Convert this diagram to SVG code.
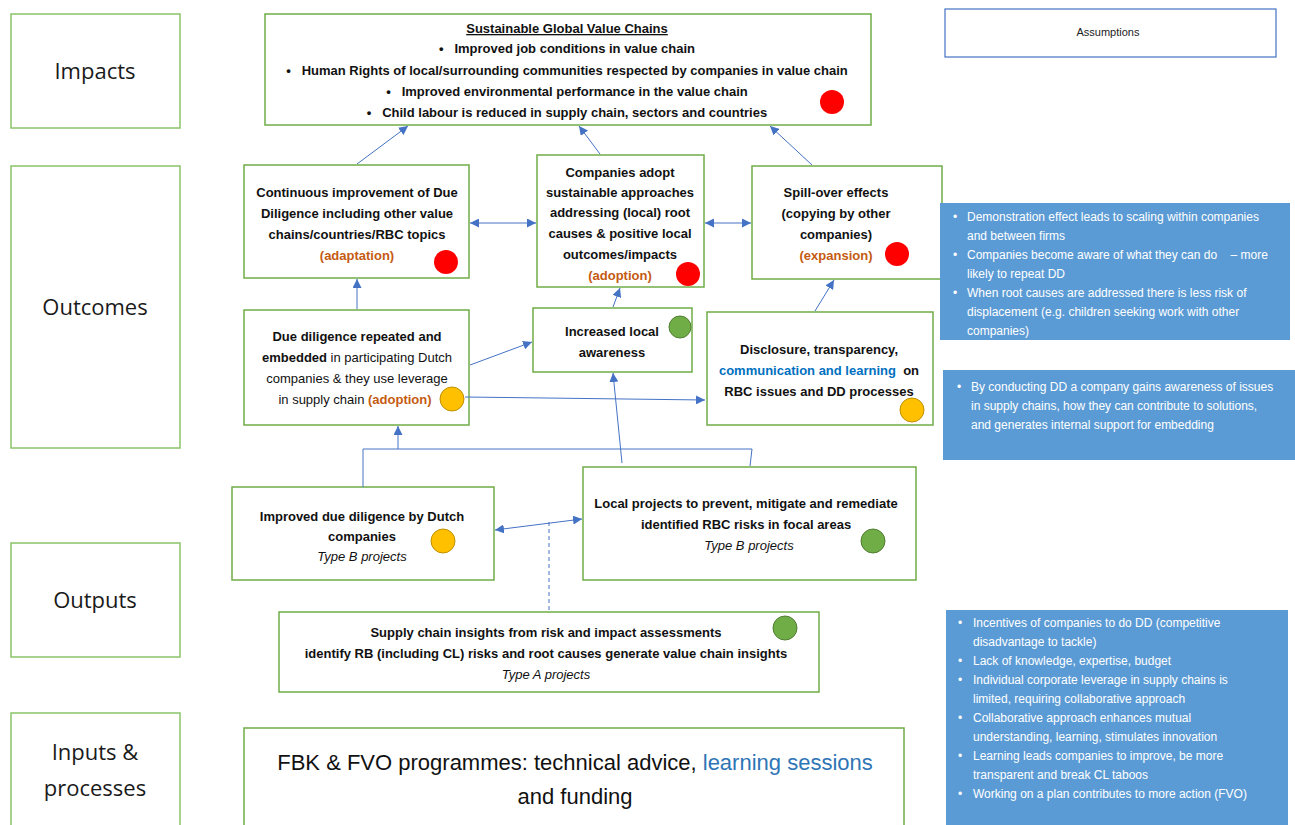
<svg xmlns="http://www.w3.org/2000/svg" width="1295" height="825" viewBox="0 0 1295 825">
<style>
.lbl{fill:#fff;stroke:#8BC36A;stroke-width:1.5}
.nd{fill:#fff;stroke:#70AD47;stroke-width:1.5}
.lt{font-family:"Open Sans",sans-serif;font-size:22px;fill:#1a1a1a;text-anchor:middle}
.t{font-family:"Liberation Sans",Arial,sans-serif;font-size:13px;font-weight:bold;fill:#111;text-anchor:middle}
.r{font-weight:normal}
.i{font-weight:normal;font-style:italic}
.or{fill:#C55A11}
.bl{fill:#0070C0}
.as{fill:#5B9BD5}
.at{font-family:"Liberation Sans",Arial,sans-serif;font-size:12px;fill:#fff}
.red{fill:#FF0000}
.grn{fill:#70AD47;stroke:#507E32;stroke-width:1}
.yel{fill:#FFC000;stroke:#BF9000;stroke-width:1}
.c{fill:none;stroke:#4472C4;stroke-width:1}
</style>
<defs>
<marker id="ah" viewBox="0 0 10 10" refX="10" refY="5" markerWidth="9" markerHeight="9" markerUnits="userSpaceOnUse" orient="auto-start-reverse">
<path d="M0,0 L10,5 L0,10 z" fill="#4472C4"/>
</marker>
</defs>

<g id="label-impacts"><rect class="lbl" x="11" y="14" width="169" height="114"/><text class="lt" x="95" y="79">Impacts</text></g>
<g id="label-outcomes"><rect class="lbl" x="11" y="166" width="169" height="282"/><text class="lt" x="95" y="315">Outcomes</text></g>
<g id="label-outputs"><rect class="lbl" x="11" y="543" width="169" height="114"/><text class="lt" x="95" y="608">Outputs</text></g>
<g id="label-inputs"><rect class="lbl" x="11" y="713" width="169" height="120"/><text class="lt" x="95" y="760">Inputs &amp;</text><text class="lt" x="95" y="796">processes</text></g>

<g id="impact">
<rect class="nd" x="265" y="14" width="606" height="111"/>
<text class="t" x="567" y="33" text-decoration="underline">Sustainable Global Value Chains </text>
<text class="t" x="567" y="53">•&#160;&#160; Improved job conditions in value chain</text>
<text class="t" x="567" y="75">•&#160;&#160; Human Rights of local/surrounding communities respected by companies in value chain</text>
<text class="t" x="567" y="96">•&#160;&#160; Improved environmental performance in the value chain</text>
<text class="t" x="567" y="117">•&#160;&#160; Child labour is reduced in supply chain, sectors and countries</text>
<circle class="red" cx="832" cy="102" r="12"/>
</g>

<g id="outcome-continuous">
<rect class="nd" x="244" y="165" width="225" height="113"/>
<text class="t" x="357" y="197">Continuous improvement of Due</text>
<text class="t" x="357" y="218">Diligence including other value</text>
<text class="t" x="357" y="239">chains/countries/RBC topics</text>
<text class="t or" x="357" y="260">(adaptation)</text>
<circle class="red" cx="446" cy="262" r="12"/>
</g>

<g id="outcome-adopt">
<rect class="nd" x="537" y="155" width="167" height="132"/>
<text class="t" x="620" y="177">Companies adopt</text>
<text class="t" x="620" y="197">sustainable approaches</text>
<text class="t" x="620" y="217">addressing (local) root</text>
<text class="t" x="620" y="238">causes &amp; positive local</text>
<text class="t" x="620" y="259">outcomes/impacts</text>
<text class="t or" x="620" y="280">(adoption)</text>
<circle class="red" cx="688" cy="274" r="12"/>
</g>

<g id="outcome-spillover">
<rect class="nd" x="752" y="166" width="190" height="113"/>
<text class="t" x="836" y="197">Spill-over effects</text>
<text class="t" x="836" y="218">(copying by other</text>
<text class="t" x="836" y="239">companies)</text>
<text class="t or" x="836" y="260">(expansion)</text>
<circle class="red" cx="897" cy="254" r="12"/>
</g>

<g id="outcome-dd-repeated">
<rect class="nd" x="244" y="310" width="225" height="115"/>
<text class="t" x="357" y="341">Due diligence repeated and</text>
<text class="t" x="357" y="362">embedded<tspan class="r"> in participating Dutch</tspan></text>
<text class="t r" x="357" y="383">companies &amp; they use leverage</text>
<text class="t" x="355" y="404"><tspan class="r">in supply chain </tspan><tspan class="or">(adoption)</tspan></text>
<circle class="yel" cx="452" cy="399" r="12"/>
</g>

<g id="outcome-awareness">
<rect class="nd" x="533" y="308" width="159" height="64"/>
<text class="t" x="612" y="336">Increased local</text>
<text class="t" x="612" y="357">awareness</text>
<circle class="grn" cx="680" cy="327" r="11"/>
</g>

<g id="outcome-disclosure">
<rect class="nd" x="707" y="312" width="226" height="113"/>
<text class="t" x="819" y="354">Disclosure, transparency,</text>
<text class="t" x="819" y="375"><tspan class="bl">communication and learning</tspan>&#160; on</text>
<text class="t" x="819" y="396">RBC issues and DD processes</text>
<circle class="yel" cx="912" cy="410" r="12"/>
</g>

<g id="output-improved-dd">
<rect class="nd" x="232" y="487" width="262" height="93"/>
<text class="t" x="362" y="521">Improved due diligence by Dutch</text>
<text class="t" x="362" y="541">companies</text>
<text class="t i" x="362" y="561">Type B projects</text>
<circle class="yel" cx="443" cy="541" r="12"/>
</g>

<g id="output-local-projects">
<rect class="nd" x="583" y="467" width="333" height="113"/>
<text class="t" x="746" y="508">Local projects to prevent, mitigate and remediate</text>
<text class="t" x="746" y="529">identified RBC risks in focal areas</text>
<text class="t i" x="749" y="550">Type B projects</text>
<circle class="grn" cx="873" cy="541" r="12"/>
</g>

<g id="output-supply-chain">
<rect class="nd" x="279" y="612" width="540" height="80"/>
<text class="t" x="546" y="637">Supply chain insights from risk and impact assessments</text>
<text class="t" x="546" y="658">identify RB (including CL) risks and root causes generate value chain insights</text>
<text class="t i" x="546" y="679">Type A projects</text>
<circle class="grn" cx="785" cy="628" r="12"/>
</g>

<g id="inputs">
<rect class="nd" x="244" y="728" width="660" height="110"/>
<text x="575" y="770" style="font-family:'Liberation Sans',Arial,sans-serif;font-size:22px;fill:#111;text-anchor:middle">FBK &amp; FVO programmes: technical advice, <tspan fill="#2E75B6">learning sessions</tspan></text>
<text x="575" y="804" style="font-family:'Liberation Sans',Arial,sans-serif;font-size:22px;fill:#111;text-anchor:middle">and funding</text>
</g>

<g id="assumptions">
<rect x="945" y="9" width="331" height="48" fill="#fff" stroke="#4472C4" stroke-width="1.2"/>
<text x="1108" y="36" style="font-family:'Liberation Sans',Arial,sans-serif;font-size:11px;fill:#222;text-anchor:middle">Assumptions</text>
</g>

<g id="assumptions-outcomes">
<rect class="as" x="940" y="203" width="350" height="137"/>
<text class="at" x="953" y="221">•</text><text class="at" x="967" y="221">Demonstration effect leads to scaling within companies</text>
<text class="at" x="967" y="240">and between firms</text>
<text class="at" x="953" y="259">•</text><text class="at" x="967" y="259">Companies become aware of what they can do&#160;&#160;&#160; – more</text>
<text class="at" x="967" y="278">likely to repeat DD</text>
<text class="at" x="953" y="297">•</text><text class="at" x="967" y="297">When root causes are addressed there is less risk of</text>
<text class="at" x="967" y="316">displacement (e.g. children seeking work with other</text>
<text class="at" x="967" y="335">companies)</text>
</g>

<g id="assumptions-dd">
<rect class="as" x="943" y="370" width="352" height="90"/>
<text class="at" x="957" y="391">•</text><text class="at" x="971" y="391">By conducting DD a company gains awareness of issues</text>
<text class="at" x="971" y="410">in supply chains, how they can contribute to solutions,</text>
<text class="at" x="971" y="429">and generates internal support for embedding</text>
</g>

<g id="assumptions-inputs">
<rect class="as" x="946" y="610" width="342" height="220"/>
<text class="at" x="958" y="627">•</text><text class="at" x="973" y="627">Incentives of companies to do DD (competitive</text>
<text class="at" x="973" y="646">disadvantage to tackle)</text>
<text class="at" x="958" y="665">•</text><text class="at" x="973" y="665">Lack of knowledge, expertise, budget</text>
<text class="at" x="958" y="684">•</text><text class="at" x="973" y="684">Individual corporate leverage in supply chains is</text>
<text class="at" x="973" y="703">limited, requiring collaborative approach</text>
<text class="at" x="958" y="722">•</text><text class="at" x="973" y="722">Collaborative approach enhances mutual</text>
<text class="at" x="973" y="741">understanding, learning, stimulates innovation</text>
<text class="at" x="958" y="760">•</text><text class="at" x="973" y="760">Learning leads companies to improve, be more</text>
<text class="at" x="973" y="779">transparent and break CL taboos</text>
<text class="at" x="958" y="798">•</text><text class="at" x="973" y="798">Working on a plan contributes to more action (FVO)</text>
</g>

<g id="connectors">
<line class="c" x1="357" y1="164" x2="408" y2="126" marker-end="url(#ah)"/>
<line class="c" x1="600" y1="154" x2="579" y2="126" marker-end="url(#ah)"/>
<line class="c" x1="812" y1="165" x2="770" y2="126" marker-end="url(#ah)"/>
<line class="c" x1="470" y1="223" x2="536" y2="223" marker-start="url(#ah)" marker-end="url(#ah)"/>
<line class="c" x1="705" y1="223" x2="751" y2="223" marker-start="url(#ah)" marker-end="url(#ah)"/>
<line class="c" x1="357" y1="309" x2="357" y2="279" marker-end="url(#ah)"/>
<line class="c" x1="613" y1="307" x2="620" y2="288" marker-end="url(#ah)"/>
<line class="c" x1="815" y1="311" x2="834" y2="280" marker-end="url(#ah)"/>
<line class="c" x1="470" y1="365" x2="532" y2="342" marker-end="url(#ah)"/>
<line class="c" x1="465" y1="397" x2="705" y2="400" marker-end="url(#ah)"/>
<path class="c" d="M363,487 V449 H752 L750,466"/>
<line class="c" x1="398" y1="449" x2="398" y2="426" marker-end="url(#ah)"/>
<line class="c" x1="622" y1="463" x2="613" y2="373" marker-end="url(#ah)"/>
<line class="c" x1="495" y1="530" x2="582" y2="519" marker-start="url(#ah)" marker-end="url(#ah)"/>
<line class="c" x1="549" y1="522" x2="549" y2="611" stroke-dasharray="4,3"/>
</g>
</svg>
